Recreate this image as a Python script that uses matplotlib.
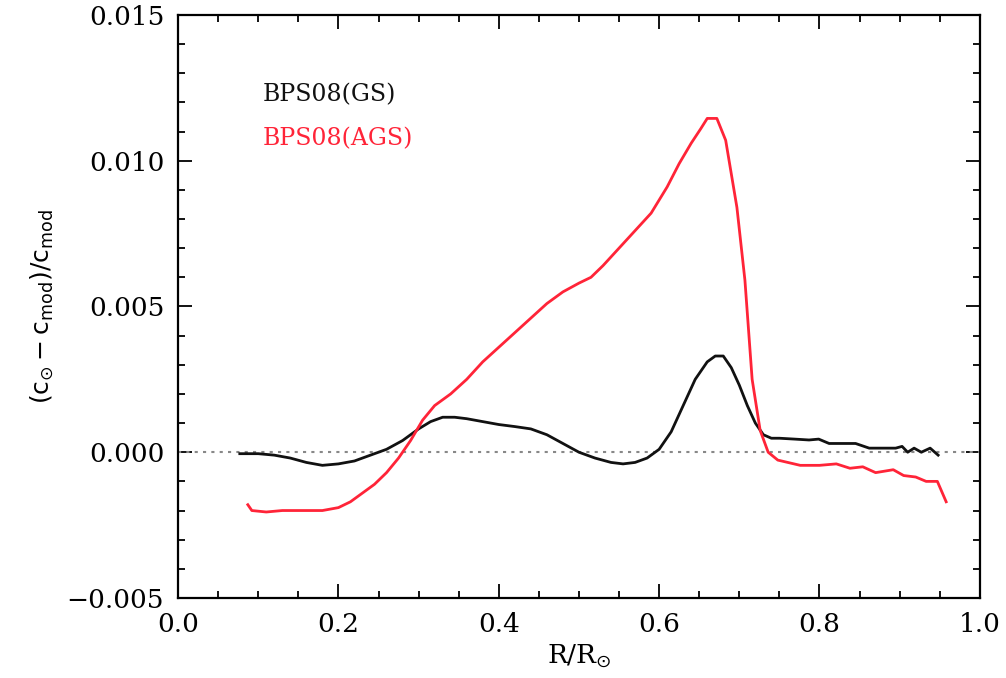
import numpy as np
import matplotlib
matplotlib.use('Agg')
import matplotlib.pyplot as plt
from matplotlib.ticker import MultipleLocator, FuncFormatter

plt.rcParams['font.family'] = 'DejaVu Serif'
plt.rcParams['mathtext.fontset'] = 'dejavusans'

# BPS08(GS) curve
r_gs = [0.077, 0.10, 0.12, 0.14, 0.16, 0.18, 0.20, 0.22, 0.24, 0.26, 0.28, 0.30,
        0.315, 0.33, 0.345, 0.36, 0.38, 0.40, 0.42, 0.44, 0.46, 0.48, 0.50, 0.52,
        0.54, 0.555, 0.57, 0.585, 0.60, 0.615, 0.63, 0.645, 0.66, 0.67, 0.68, 0.69,
        0.70, 0.71, 0.72, 0.73, 0.74, 0.75, 0.769, 0.787, 0.799, 0.812, 0.825, 0.845,
        0.862, 0.878, 0.895, 0.903, 0.91, 0.918, 0.927, 0.938, 0.948]
dc_gs = [-0.00005, -0.00005, -0.0001, -0.0002, -0.00035, -0.00045, -0.0004, -0.0003,
         -0.0001, 0.0001, 0.0004, 0.0008, 0.00105, 0.0012, 0.0012, 0.00115, 0.00105,
         0.00095, 0.00088, 0.0008, 0.0006, 0.0003, 0.0, -0.0002, -0.00035, -0.0004,
         -0.00035, -0.0002, 0.0001, 0.0007, 0.0016, 0.0025, 0.0031, 0.0033, 0.0033,
         0.0029, 0.0023, 0.0016, 0.001, 0.0006, 0.00048, 0.00048, 0.00045, 0.00042,
         0.00045, 0.0003, 0.0003, 0.0003, 0.00014, 0.00014, 0.00014, 0.0002, 0.0,
         0.00014, 0.0, 0.00014, -0.0001]

# BPS08(AGS) curve
r_ags = [0.087, 0.092, 0.11, 0.13, 0.15, 0.18, 0.20, 0.215, 0.23, 0.245, 0.26, 0.275,
         0.29, 0.305, 0.32, 0.34, 0.36, 0.38, 0.40, 0.42, 0.44, 0.46, 0.48, 0.50,
         0.515, 0.53, 0.55, 0.57, 0.59, 0.61, 0.625, 0.64, 0.652, 0.66, 0.672, 0.683,
         0.697, 0.707, 0.716, 0.726, 0.736, 0.748, 0.776, 0.8, 0.821, 0.838, 0.854,
         0.87, 0.892, 0.905, 0.92, 0.933, 0.947, 0.958]
dc_ags = [-0.0018, -0.002, -0.00205, -0.002, -0.002, -0.002, -0.0019, -0.0017, -0.0014,
          -0.0011, -0.0007, -0.0002, 0.0004, 0.0011, 0.0016, 0.002, 0.0025, 0.0031,
          0.0036, 0.0041, 0.0046, 0.0051, 0.0055, 0.0058, 0.006, 0.0064, 0.007,
          0.0076, 0.0082, 0.0091, 0.0099, 0.0106, 0.0111, 0.01145, 0.01145, 0.0107,
          0.0084, 0.0059, 0.0025, 0.00075, 0.0, -0.00027, -0.00045, -0.00045, -0.0004,
          -0.00055, -0.0005, -0.0007, -0.0006, -0.0008, -0.00085, -0.001, -0.001,
          -0.0017]

fig = plt.figure(figsize=(10.06, 6.78), dpi=100)
ax = fig.add_axes([0.177, 0.118, 0.797, 0.860])

ax.axhline(0, color='#888888', ls=(0, (1.5, 2.5)), lw=1.5)
ax.plot(r_gs, dc_gs, color='#111111', lw=2)
ax.plot(r_ags, dc_ags, color='#ff2438', lw=2)

ax.text(0.105, 0.01225, 'BPS08(GS)', color='#111111', fontsize=17, va='center')
ax.text(0.105, 0.01077, 'BPS08(AGS)', color='#ff2438', fontsize=17, va='center')

ax.set_xlim(0, 1)
ax.set_ylim(-0.005, 0.015)
ax.xaxis.set_major_locator(MultipleLocator(0.2))
ax.xaxis.set_minor_locator(MultipleLocator(0.05))
ax.yaxis.set_major_locator(MultipleLocator(0.005))
ax.yaxis.set_minor_locator(MultipleLocator(0.001))
ax.xaxis.set_major_formatter(FuncFormatter(lambda v, p: '%.1f' % v))
ax.yaxis.set_major_formatter(FuncFormatter(lambda v, p: ('%.3f' % v).replace('-', '\u2212')))
ax.tick_params(which='both', direction='in', top=True, right=True, labelsize=19, width=1.3)
ax.tick_params(which='major', length=10, pad=10)
ax.tick_params(which='minor', length=5)
for s in ax.spines.values():
    s.set_linewidth(1.6)

ax.set_xlabel(r'R/R$_{\odot}$', fontsize=19, labelpad=4)
ax.set_ylabel(r'$(\mathrm{c}_{\odot}-\mathrm{c}_{\mathrm{mod}})/\mathrm{c}_{\mathrm{mod}}$',
              fontsize=18, labelpad=8)

fig.savefig('out.png', dpi=100)
